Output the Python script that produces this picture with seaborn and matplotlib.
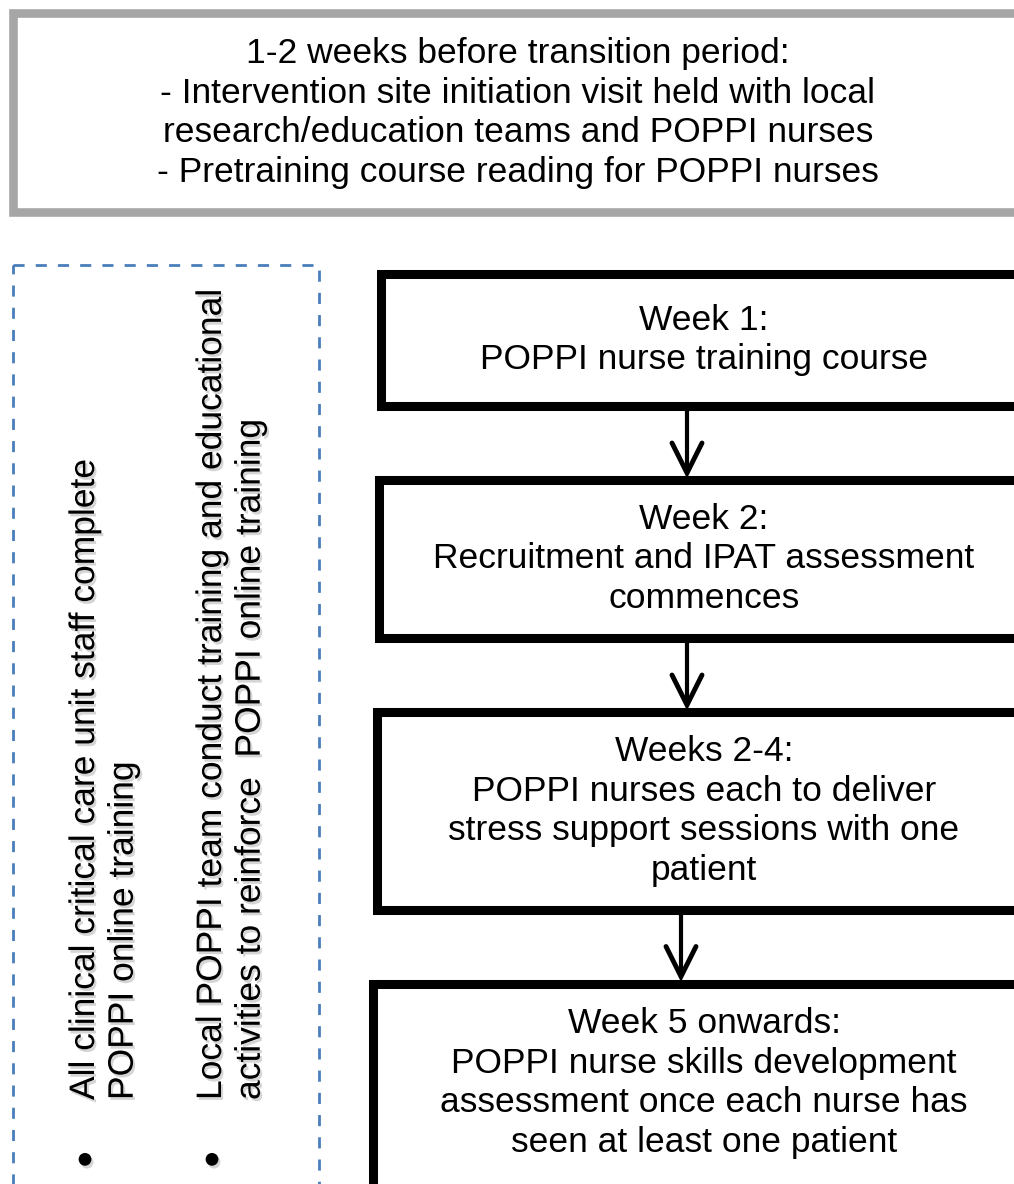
import matplotlib
matplotlib.use('Agg')
import matplotlib.pyplot as plt
import matplotlib.patheffects as pe
from matplotlib.patches import Rectangle
import seaborn as sns

# Text content of the flowchart
top_text = ["1-2 weeks before transition period:",
            "- Intervention site initiation visit held with local",
            "research/education teams and POPPI nurses",
            "- Pretraining course reading for POPPI nurses"]

step_texts = [
    ["Week 1:", "POPPI nurse training course"],
    ["Week 2:", "Recruitment and IPAT assessment", "commences"],
    ["Weeks 2-4:", "POPPI nurses each to deliver",
     "stress support sessions with one", "patient"],
    ["Week 5 onwards:", "POPPI nurse skills development",
     "assessment once each nurse has", "seen at least one patient"],
]

side_notes = [
    ["All clinical critical care unit staff complete", "POPPI online training"],
    ["Local POPPI team conduct training and educational",
     "activities to reinforce  POPPI online training"],
]

# layout (pixel coords, y down)
W, H = 1014, 1184
step_left = [380.5, 378.5, 376.5, 372.5]
step_top = [274, 480, 712, 983.5]
step_bottom = [406, 638, 910, 1200]
arrow_x = [687, 687, 681]
text_cx = 704
note_x = [68, 195]
bullet_x = [85, 212]
FS = 25.5
LS = 1.25


def box(ax, left, top, bottom, right=1100, **kw):
    # open-ended frame, right side is cut off by the canvas anyway
    ax.plot([right, left, left, right], [top, top, bottom, bottom],
            solid_joinstyle='miter', solid_capstyle='projecting', **kw)


def main():
    sns.set_theme(style='white')
    plt.rcParams['font.family'] = ['Liberation Sans', 'DejaVu Sans']

    fig = plt.figure(figsize=(W / 100, H / 100), dpi=100)
    ax = fig.add_axes([0, 0, 1, 1])
    ax.set_xlim(0, W)
    ax.set_ylim(H, 0)
    ax.axis('off')

    # top box
    box(ax, 13, 12.5, 212, color='#a6a6a6', lw=6.2)
    ax.text(518, 113, "\n".join(top_text), ha='center', va='center',
            fontsize=FS, linespacing=LS, color='black')

    # dashed side box
    ax.add_patch(Rectangle((13, 265), 306, 1000, fill=False,
                           edgecolor='#4a7ebb', linewidth=2,
                           linestyle=(0, (4, 4))))
    shadow = [pe.withSimplePatchShadow(offset=(1.5, -2), shadow_rgbFace='#888888', alpha=0.35)]
    for i, lines in enumerate(side_notes):
        ax.text(note_x[i], 1100, "\n".join(lines), rotation=90, ha='left', va='bottom',
                multialignment='left', fontsize=FS, linespacing=1.22,
                color='black', path_effects=shadow)
        ax.text(bullet_x[i], 1163, "\u2022", ha='center', va='center',
                fontsize=34, color='black', path_effects=shadow)

    # step boxes
    for i, lines in enumerate(step_texts):
        box(ax, step_left[i], step_top[i], step_bottom[i], color='black', lw=6.5)
        cy = (step_top[i] + step_bottom[i]) / 2 if i < 3 else 1083
        ax.text(text_cx, cy, "\n".join(lines), ha='center', va='center',
                fontsize=FS, linespacing=LS, color='black')

    # arrows between steps
    for i, x in enumerate(arrow_x):
        y0 = step_bottom[i] + 4
        y1 = step_top[i + 1] - 7
        ax.plot([x, x], [y0, y1], color='black', lw=3, solid_capstyle='butt')
        ax.plot([x - 15, x, x + 15], [y1 - 30, y1, y1 - 30], color='black',
                lw=3.5, solid_capstyle='round', solid_joinstyle='miter')

    plt.savefig('out.png', dpi=100)


if __name__ == "__main__":
    main()
